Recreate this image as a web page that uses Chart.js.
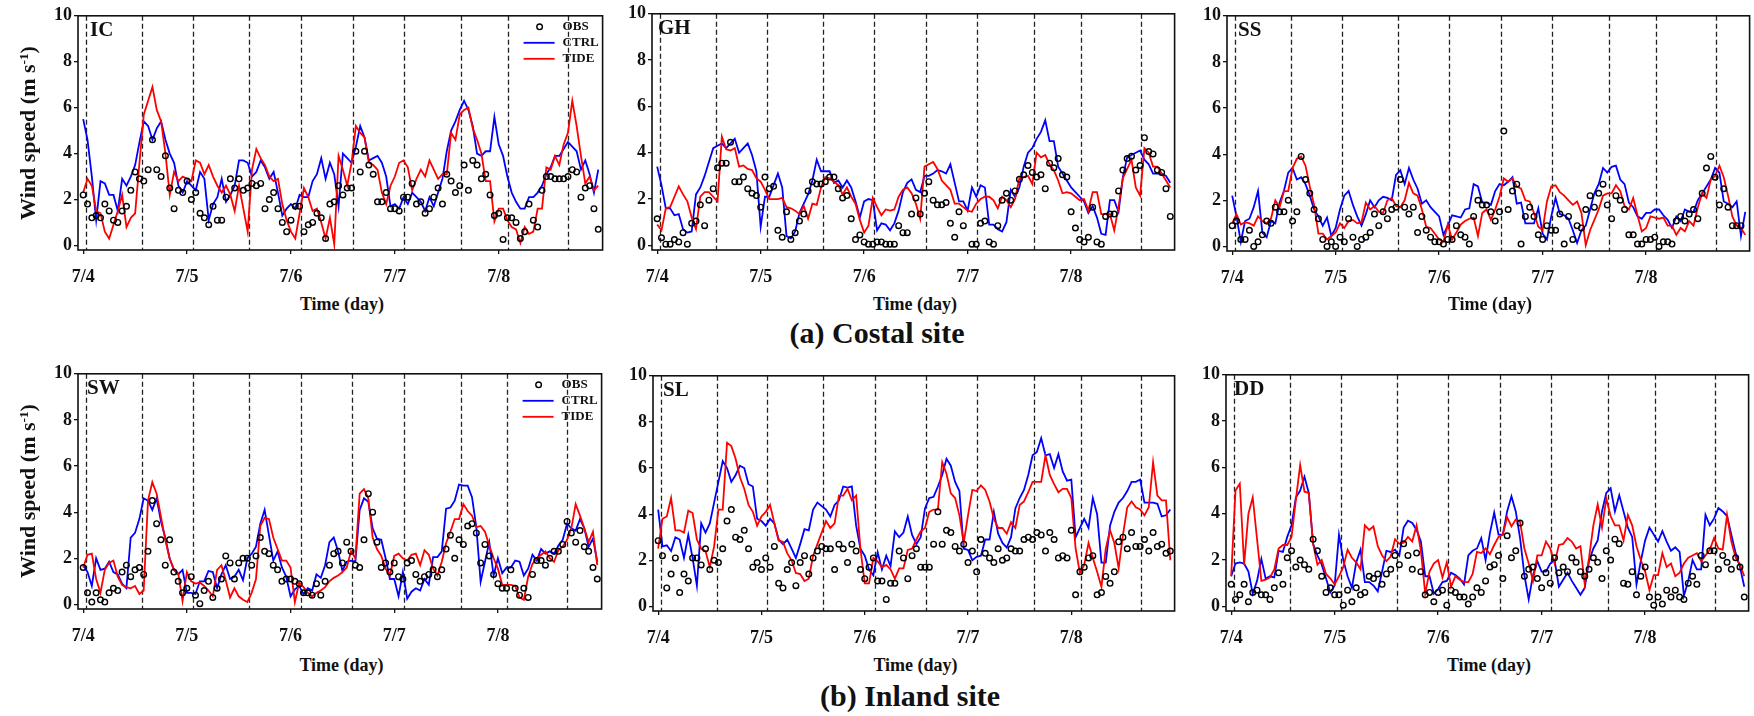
<!DOCTYPE html>
<html>
<head>
<meta charset="utf-8">
<script src="https://cdn.jsdelivr.net/npm/chart.js@4.4.1/dist/chart.umd.min.js"></script>
<style>
  body { margin:0; background:#fff; width:1754px; height:716px; overflow:hidden; position:relative; font-family:'Liberation Serif', 'Times New Roman', serif; }
  canvas { position:absolute; }
  .lbl { position:absolute; font-weight:bold; color:#111; white-space:nowrap; transform:translate(-50%,-50%); line-height:1; }
  .ytitle { transform:translate(-50%,-50%) rotate(-90deg); font-size:22px; }
  .xtitle { font-size:18px; }
  .sub { font-size:30px; }
  sup { font-size:0.6em; vertical-align:0.55em; line-height:0; }
</style>
</head>
<body>
<script>
// hourly wind speed (m/s), hour 0 = 7/4 00:00
const tickHours = [0, 24, 48, 72, 96];
const tickLabels = ['7/4', '7/5', '7/6', '7/7', '7/8'];
const yTicks = [0, 2, 4, 6, 8, 10];
const dashHours = [0.6, 13.7, 25.4, 38.4, 50.4, 62.3, 74.2, 87.4, 98.2, 112.1];

// ---- coastal sites
const icObs = [2.2,1.8,1.2,1.3,1.2,1.8,1.5,1.1,1.0,1.5,1.7,2.4,
  3.2,2.9,2.8,3.3,4.6,3.3,3.0,3.9,2.5,1.6,2.4,2.3,
  2.8,2.0,2.3,1.4,1.2,0.9,1.7,1.1,1.1,2.1,2.9,2.5,
  2.9,2.4,2.5,2.7,2.6,2.7,1.6,2.0,2.3,1.6,1.0,0.6,
  1.1,1.7,1.7,0.6,0.9,1.0,1.4,1.2,0.3,1.8,1.9,2.6,
  2.2,2.5,2.5,4.1,3.2,4.1,3.5,3.1,1.9,1.9,2.3,1.6,
  1.6,1.5,2.1,2.1,2.7,1.8,1.9,1.4,1.6,2.1,2.5,1.8,
  3.1,2.8,2.3,2.6,3.5,2.4,3.7,3.5,2.9,3.1,2.2,1.3,
  1.4,0.26,1.2,1.2,1.0,0.3,0.6,1.8,1.1,0.8,2.4,3.0,
  3.0,2.9,2.9,2.9,3.0,3.3,3.2,2.1,2.5,2.6,1.6,0.7];
const icCtrl = [5.5,4.6,3.0,1.1,2.8,2.7,2.2,2.2,1.5,2.9,2.6,3.0,
  3.5,4.5,5.4,5.2,4.6,5.1,5.4,4.6,4.0,3.6,2.6,2.3,
  2.8,2.6,2.4,3.2,2.9,1.1,1.8,2.1,2.9,1.9,2.2,2.6,
  3.7,3.7,3.6,3.0,3.2,3.7,3.4,2.9,3.2,2.3,1.3,1.6,
  1.8,1.6,2.2,2.1,2.1,2.8,3.1,3.8,2.9,3.6,3.1,1.7,
  4.0,3.8,3.6,4.3,5.2,4.7,3.7,3.8,3.9,3.6,3.0,1.7,
  1.8,1.6,2.1,1.8,2.3,2.1,1.9,1.5,2.1,1.7,2.3,2.9,
  4.1,5.0,5.4,5.9,6.3,5.9,5.2,4.0,3.9,4.1,4.1,5.6,
  4.4,3.9,3.0,2.3,1.9,1.6,1.6,2.1,2.1,2.3,2.6,3.1,
  3.4,3.9,3.9,4.2,4.5,4.3,4.1,3.3,3.7,3.1,2.3,3.3];
const icTide = [2.3,2.9,2.6,1.5,1.4,0.6,0.3,0.9,1.5,2.2,0.8,1.2,
  1.4,3.6,5.7,6.3,6.9,5.9,5.4,4.0,2.2,3.2,2.8,3.0,
  2.9,2.8,3.7,3.6,3.1,3.5,3.0,2.6,2.3,2.6,2.2,1.5,
  2.6,1.6,0.6,3.3,4.2,3.8,3.5,3.0,2.8,2.9,1.8,1.1,
  0.6,0.3,1.4,2.5,2.1,1.5,1.6,1.0,0.3,1.2,0.05,3.9,
  3.3,2.6,3.6,5.2,4.9,4.7,3.6,3.5,3.3,2.3,1.8,2.6,
  3.0,3.6,3.7,3.4,2.4,2.9,3.3,3.0,3.7,3.3,2.9,3.1,
  3.1,4.9,4.6,5.7,5.9,6.0,5.1,4.6,4.0,2.8,2.8,1.05,
  1.6,1.6,1.1,0.8,0.7,0.1,0.8,0.5,0.6,1.6,1.6,3.4,
  3.3,3.9,3.5,4.4,4.9,6.3,5.2,3.9,2.7,3.0,2.4,2.6];

const ghObs = [1.15,0.33,0.05,0.05,0.25,0.15,0.55,0.05,0.95,1.05,1.75,0.85,
  1.95,2.45,3.35,3.55,3.55,4.45,2.75,2.75,2.95,2.45,2.25,2.15,
  1.65,2.95,2.45,2.55,0.65,0.35,1.45,0.25,0.55,1.05,1.35,2.35,
  2.75,2.65,2.65,2.75,2.95,2.95,2.45,2.05,2.15,1.15,0.25,0.45,
  0.15,0.05,0.05,0.15,0.15,0.05,0.05,0.05,0.85,0.55,0.55,1.35,
  2.05,1.35,2.25,2.75,1.95,1.75,1.75,1.85,0.95,0.35,1.45,0.85,
  null,0.05,0.05,0.95,1.05,0.15,0.05,0.85,1.95,2.25,1.95,2.35,
  2.85,3.05,3.45,3.15,2.95,3.05,2.45,3.55,3.35,3.75,3.05,2.95,
  1.45,0.75,0.25,0.15,0.35,1.65,0.15,0.05,1.25,1.35,1.35,2.35,
  3.25,3.75,3.85,3.25,3.45,4.65,4.05,3.95,3.25,3.15,2.45,1.25];
const ghCtrl = [3.4,2.6,1.6,1.6,1.3,1.35,0.7,0.55,0.6,2.2,2.5,3.0,
  3.6,4.2,4.3,4.4,4.2,4.4,4.6,4.0,4.2,4.4,3.9,3.2,
  0.8,2.1,2.1,2.6,3.1,2.5,0.4,0.3,0.6,1.4,1.8,2.2,
  2.8,3.7,3.2,3.2,3.2,2.7,2.8,2.5,2.8,2.5,1.9,1.2,
  1.9,2.0,1.95,0.65,0.95,0.9,0.65,0.95,1.5,2.3,2.7,2.85,
  2.4,2.3,3.0,3.0,3.1,3.25,3.2,3.1,3.5,2.7,1.9,1.9,
  1.5,2.5,2.1,2.6,2.5,0.9,0.9,0.7,0.6,1.0,2.4,2.1,
  2.5,3.4,4.0,4.2,4.6,4.9,5.4,4.5,4.5,3.4,3.1,2.8,
  2.5,2.3,2.1,1.9,1.4,1.7,1.2,0.5,0.45,1.95,1.95,1.45,
  2.95,3.8,3.9,4.0,4.1,3.7,3.5,3.1,3.1,3.1,3.0,2.7];
const ghTide = [0.9,0.65,1.6,1.65,2.1,2.55,2.2,1.9,1.2,0.7,2.1,2.3,
  2.3,2.1,1.9,4.7,4.15,4.1,4.2,3.4,3.45,3.3,3.25,2.9,
  2.75,2.4,2.0,2.0,2.0,2.05,1.65,1.6,1.5,1.35,1.7,1.15,
  1.8,1.75,2.5,2.95,2.9,2.75,2.6,2.2,2.5,2.1,1.8,1.1,
  0.55,0.85,2.05,1.65,1.3,1.55,1.5,1.55,2.1,2.4,2.5,2.25,
  1.8,1.15,3.4,3.5,3.6,3.3,2.8,2.6,2.4,1.8,1.8,1.65,
  1.5,1.45,1.8,2.0,2.1,2.1,1.95,1.6,2.1,1.95,1.65,2.0,
  2.9,2.95,3.0,2.65,4.0,3.8,3.9,3.5,3.25,2.8,2.25,2.3,
  2.25,2.1,1.95,2.0,1.5,2.3,2.3,1.35,1.35,1.35,0.65,1.65,
  2.9,3.3,3.7,2.5,2.15,4.2,4.0,3.4,3.4,3.1,2.8,2.5];

const ssObs = [0.9,1.1,0.3,0.3,0.7,0.0,0.2,0.5,1.1,1.0,1.7,1.5,
  1.5,2.0,1.1,1.5,3.9,2.9,2.3,1.6,1.2,0.3,0.0,0.2,
  0.0,0.4,0.2,1.2,0.4,0.0,0.3,0.4,0.6,1.4,0.9,1.5,
  1.2,1.6,1.7,2.9,1.7,1.4,1.7,0.6,1.3,0.7,0.4,0.2,
  0.2,0.1,0.3,0.3,0.9,0.5,0.4,0.1,1.3,2.0,1.8,1.8,
  1.5,1.1,1.5,5.0,1.6,2.4,2.7,0.1,1.3,1.7,1.3,0.5,
  0.3,0.9,0.7,0.7,1.4,0.1,1.3,0.3,0.9,0.8,1.6,2.2,
  1.7,2.3,2.7,1.8,1.2,2.2,2.0,1.6,0.5,0.5,0.1,0.1,
  0.3,0.3,0.4,0.0,0.2,0.2,0.1,1.1,1.3,1.1,1.4,1.6,
  1.2,2.3,3.4,3.9,3.0,1.8,2.5,1.7,0.9,0.9,0.9,null];
const ssCtrl = [2.2,1.3,0.2,1.1,1.2,1.7,2.4,0.6,0.4,1.1,1.0,1.9,
  2.4,3.2,3.4,2.9,3.0,2.7,2.2,1.6,1.3,0.9,1.25,0.45,
  0.8,1.6,2.2,2.4,1.8,1.3,0.9,1.4,2.0,1.7,2.0,2.15,
  2.1,2.0,3.1,3.3,2.7,3.4,2.9,2.5,1.85,2.0,1.7,1.5,
  1.3,0.5,0.9,1.35,1.3,1.25,1.6,1.65,2.7,2.6,1.9,1.9,
  1.8,2.4,2.7,2.65,2.8,3.0,1.85,1.9,1.0,1.0,1.0,1.65,
  0.55,0.3,1.3,2.1,1.4,1.35,1.2,0.7,0.15,0.7,0.9,1.6,
  2.3,2.7,3.4,3.2,3.45,3.5,2.9,2.7,1.9,1.7,1.3,1.2,
  1.45,1.45,1.6,1.6,1.35,1.15,0.8,1.3,1.1,1.6,1.5,1.5,
  2.0,2.3,2.6,2.9,3.4,3.2,1.95,1.85,1.7,1.95,0.45,1.5];
const ssTide = [1.0,1.4,0.95,1.05,1.0,0.9,1.3,1.1,1.0,1.2,2.0,1.7,
  2.4,2.4,3.4,3.8,3.9,3.5,2.6,1.8,0.55,0.55,0.3,0.45,
  0.6,1.0,0.8,1.1,1.15,1.0,1.05,1.9,1.6,1.75,1.5,1.45,
  2.0,2.1,1.75,1.7,2.0,2.75,2.3,2.2,1.6,0.85,0.8,0.55,
  0.3,0.2,0.95,0.3,0.6,0.95,1.1,1.2,1.25,0.45,1.45,1.6,
  1.15,1.6,2.15,2.95,2.8,2.95,2.6,2.5,2.0,1.95,1.45,0.85,
  0.7,1.95,2.6,2.65,2.35,2.2,2.0,1.8,1.95,1.45,0.05,0.7,
  1.15,1.6,2.2,2.3,2.3,2.65,2.4,1.75,1.6,2.1,1.35,0.65,
  0.8,1.3,1.25,1.2,1.25,0.9,0.9,0.5,0.8,0.65,1.1,0.9,
  1.7,2.3,2.1,2.9,3.05,3.5,3.0,2.2,1.3,0.9,0.8,0.5];

// ---- inland sites
const swObs = [1.6,0.5,0.1,0.5,0.2,0.1,0.5,0.7,0.6,1.4,1.7,1.2,
  1.5,1.6,1.3,2.3,4.5,3.5,2.8,1.7,2.8,1.4,1.0,0.5,
  0.7,1.2,0.4,0.03,0.6,1.0,0.3,0.7,1.1,2.1,1.8,1.1,
  1.8,2.0,2.0,1.7,2.1,2.9,2.3,2.2,1.7,1.5,1.0,1.1,
  1.1,1.0,0.9,0.5,0.5,0.4,0.9,0.4,1.0,1.7,2.2,2.3,
  1.8,2.7,2.3,1.7,1.6,2.8,4.8,4.0,2.7,1.6,1.8,1.4,
  1.8,1.2,1.1,1.8,1.9,1.3,1.0,1.2,1.3,1.5,1.2,1.5,
  2.4,3.0,2.0,2.8,2.6,3.4,3.5,3.1,1.8,2.6,2.1,1.3,
  0.9,0.7,0.7,1.5,0.7,0.4,0.7,0.3,1.3,1.9,1.9,1.7,
  2.0,2.3,2.3,2.6,3.6,3.1,2.7,3.2,2.5,2.3,1.6,1.1];
const swCtrl = [1.7,1.4,0.8,2.0,1.5,1.55,1.85,1.4,1.3,0.9,0.7,2.9,
  3.1,3.7,4.6,4.5,4.1,4.6,3.6,2.9,2.0,1.5,1.3,1.5,
  0.5,0.5,0.45,1.0,1.0,1.45,1.4,0.7,1.3,1.7,1.1,1.2,
  1.5,1.05,2.0,2.2,2.5,3.5,4.1,3.0,1.9,2.3,1.6,1.2,
  0.35,0.65,0.8,0.45,0.7,0.6,1.3,1.15,1.7,2.7,2.9,2.3,
  1.45,1.85,1.9,1.85,4.1,4.6,4.45,3.3,2.85,2.8,2.0,1.1,
  1.1,0.35,1.4,0.25,0.55,0.7,0.6,1.1,0.85,2.05,2.05,2.3,
  4.15,4.2,4.5,5.2,5.15,5.15,4.65,3.35,0.98,1.85,2.7,1.25,
  2.0,1.35,1.6,1.6,1.9,1.85,1.25,1.55,2.15,1.9,2.4,2.2,
  2.3,2.2,2.55,2.8,3.5,3.3,3.2,3.7,3.3,2.5,2.85,1.85];
const swTide = [1.6,2.15,2.2,1.1,0.5,1.5,1.8,1.9,1.2,0.85,0.75,0.7,
  0.8,0.45,0.6,4.5,5.3,4.8,3.8,2.8,2.0,1.5,1.35,0.15,
  1.4,1.0,0.9,0.95,0.8,0.6,0.35,1.5,1.7,1.05,0.3,0.7,
  0.35,0.2,0.1,0.5,1.1,3.4,3.75,3.7,2.9,2.4,1.9,1.9,
  1.6,0.1,0.95,0.75,0.5,0.35,0.5,0.6,0.75,1.0,1.15,1.25,
  1.4,1.6,2.3,2.0,4.8,5.0,4.6,2.9,2.4,2.1,1.55,1.25,
  2.1,2.2,2.0,1.9,2.15,2.2,1.7,2.35,2.15,1.55,1.25,1.85,
  2.65,3.15,3.7,3.7,4.35,4.05,3.85,3.35,3.4,3.15,2.55,2.0,
  1.55,0.85,0.85,0.85,0.8,0.3,0.2,1.2,1.75,2.0,2.15,2.3,
  2.0,1.85,2.35,2.5,2.8,3.3,4.35,3.85,3.3,2.7,3.15,1.7];

const slObs = [2.85,2.2,0.8,1.4,2.1,0.6,1.4,1.1,2.1,2.1,1.8,2.5,
  1.6,2.0,1.9,2.5,3.7,4.2,3.0,2.9,3.3,2.5,1.7,1.9,
  1.6,2.1,1.7,2.6,1.0,0.8,1.6,1.9,0.9,1.9,2.2,1.4,
  2.1,2.4,2.6,2.5,2.5,1.6,2.7,2.5,1.9,2.7,2.4,1.6,
  1.2,1.7,2.1,1.1,1.1,0.3,1.0,1.0,2.4,2.1,1.2,2.2,
  2.5,1.7,1.7,1.7,2.7,4.1,2.7,3.3,3.2,2.6,2.4,2.7,
  1.9,2.4,1.5,2.9,2.3,2.1,1.9,2.5,2.0,2.1,2.5,2.4,
  2.4,2.9,3.0,2.9,3.2,3.1,2.4,3.2,2.9,2.1,2.2,2.1,
  3.3,0.5,1.5,1.7,2.1,2.2,0.5,0.6,1.3,1.0,1.5,2.8,
  3.0,2.5,3.2,2.6,2.6,2.9,2.4,3.2,2.6,2.7,2.3,2.4];
const slCtrl = [4.2,2.6,2.65,2.4,3.0,2.9,2.1,3.1,2.1,0.9,3.6,3.2,
  3.6,4.5,5.4,6.3,6.0,5.4,5.7,6.1,6.0,5.3,5.2,3.8,
  3.7,3.5,3.8,3.6,2.9,2.7,2.9,2.5,2.1,2.7,3.35,3.3,
  4.2,4.5,4.35,4.2,3.9,4.4,4.6,5.2,5.15,5.2,3.5,2.5,
  2.2,1.6,1.35,2.35,1.6,2.2,1.75,3.25,3.0,3.2,3.9,3.1,
  2.7,3.0,4.25,4.7,4.75,5.2,5.7,6.4,6.1,5.4,5.0,2.5,
  2.45,2.0,2.15,2.2,2.9,2.9,4.1,3.15,2.75,2.55,3.0,4.25,
  4.7,5.05,5.7,6.55,6.7,7.3,6.55,6.6,6.0,6.6,5.85,5.45,
  5.5,3.0,3.4,3.8,3.4,4.7,4.0,1.9,1.9,3.5,4.1,4.5,
  4.7,5.0,5.4,5.4,5.5,4.5,4.5,4.5,4.45,3.9,3.95,4.2];
const slTide = [2.5,3.8,3.9,4.7,3.3,3.3,3.2,4.15,4.05,2.9,2.5,2.4,
  1.7,2.6,4.2,4.2,7.1,6.95,6.4,5.6,5.1,4.4,4.1,3.5,
  3.9,4.1,4.4,3.6,2.85,2.8,2.3,2.0,1.45,1.4,1.1,1.2,
  2.2,2.7,3.2,3.7,3.4,3.6,4.8,4.8,5.1,4.6,4.8,2.5,
  1.0,1.0,2.1,1.95,1.7,1.8,1.6,1.2,1.65,1.65,2.45,2.5,
  2.9,3.25,3.4,4.1,4.2,4.2,6.25,5.75,4.9,4.7,3.95,2.75,
  3.95,5.05,5.0,5.25,5.05,4.55,3.8,3.4,3.4,3.15,3.65,3.4,
  4.4,4.55,4.95,5.4,5.4,5.4,6.55,5.7,5.3,4.95,5.1,5.1,
  4.7,2.5,1.45,1.8,2.75,2.1,1.5,0.85,2.5,3.3,2.75,1.65,
  3.1,4.3,4.55,4.3,4.2,3.95,4.3,6.25,4.8,4.6,4.6,2.0];

const ddObs = [0.95,0.3,0.5,0.95,0.2,0.6,0.7,0.5,0.5,0.3,0.8,1.45,
  0.95,2.1,2.4,1.7,2.0,1.8,1.6,2.9,2.4,1.3,0.6,0.8,
  0.5,0.5,0.05,0.7,0.2,0.8,0.5,0.6,1.3,1.2,1.4,0.95,
  1.4,1.6,2.2,1.8,2.7,2.2,1.6,2.3,1.5,0.5,0.6,0.2,
  0.6,0.7,0.05,0.7,0.6,0.4,0.4,0.1,0.4,0.8,0.6,1.1,
  1.7,1.8,2.2,1.2,3.05,2.1,2.4,3.6,1.3,1.6,1.7,1.2,
  0.8,1.45,1.0,2.1,1.45,1.7,1.5,2.1,1.9,1.5,1.3,1.6,
  2.1,1.9,1.2,2.4,2.0,2.9,2.7,1.0,0.95,1.5,0.5,1.3,
  1.7,0.4,0.05,0.4,0.1,0.7,0.4,0.7,0.4,0.3,1.0,1.3,
  0.95,2.2,1.8,2.4,2.4,1.6,2.2,1.9,1.6,2.1,1.7,0.4];
const ddCtrl = [1.3,1.85,1.9,1.85,1.5,0.55,1.1,2.05,1.2,1.3,1.25,2.4,
  2.35,3.0,3.5,4.7,5.0,5.6,4.9,2.7,2.2,1.8,1.2,0.6,
  0.9,3.1,2.0,1.3,0.8,1.9,2.45,1.05,1.05,0.9,0.65,1.5,
  2.4,2.35,2.45,2.2,3.4,3.7,3.6,3.3,2.8,1.3,1.3,0.55,
  0.75,1.05,1.1,1.45,1.35,1.2,0.95,2.2,2.4,2.5,2.95,2.0,
  3.15,4.05,3.1,3.1,4.1,4.75,4.1,2.95,1.35,0.3,1.35,1.95,
  1.5,1.5,1.85,2.0,0.85,1.15,1.45,1.1,0.8,0.5,0.8,1.95,
  2.5,2.85,4.1,4.9,5.1,4.1,4.8,4.1,3.4,3.0,0.95,1.95,
  2.85,3.4,3.1,2.8,3.25,2.8,2.4,2.55,2.35,0.45,1.1,2.0,
  1.6,1.6,3.95,3.5,3.8,4.25,4.1,3.9,3.1,2.3,1.7,0.85];
const ddTide = [1.3,5.0,5.3,1.8,4.0,4.7,2.9,1.1,1.15,1.25,1.6,2.5,
  2.65,2.65,3.0,4.6,6.1,4.95,4.9,2.7,1.8,2.0,1.4,1.2,
  0.95,1.3,1.7,2.45,2.1,1.9,1.6,3.5,3.3,3.45,2.6,2.2,
  1.95,2.15,2.9,2.7,2.75,3.0,2.8,3.5,2.4,0.55,1.5,1.85,
  2.0,1.25,1.9,0.85,1.3,1.15,1.05,1.05,1.4,2.35,2.3,2.5,
  2.25,2.65,3.0,3.1,3.85,3.45,3.75,3.65,2.5,1.85,1.1,2.2,
  2.2,2.8,2.5,1.85,2.65,2.7,2.95,2.8,2.5,2.6,0.95,2.1,
  3.5,4.4,3.4,4.65,3.9,3.5,3.5,2.85,3.95,3.5,2.6,2.0,
  1.5,0.7,1.35,1.35,2.3,1.7,1.85,1.3,1.45,1.85,2.1,2.2,
  2.3,1.95,2.2,2.45,2.95,2.5,2.45,3.95,2.8,2.1,1.8,1.3];

const CTRL_COLOR = '#0000ff';
const TIDE_COLOR = '#ff0000';
const FONT = '"Liberation Serif", "Times New Roman", serif';

// plot boxes in page pixels
const panels = [
  { name: 'IC', obs: icObs, ctrl: icCtrl, tide: icTide, L: 78, T: 15, R: 606, B: 250, lx: 12, legend: true },
  { name: 'GH', obs: ghObs, ctrl: ghCtrl, tide: ghTide, L: 652, T: 13, R: 1178, B: 250, lx: 6 },
  { name: 'SS', obs: ssObs, ctrl: ssCtrl, tide: ssTide, L: 1227, T: 15, R: 1753, B: 251, lx: 11 },
  { name: 'SW', obs: swObs, ctrl: swCtrl, tide: swTide, L: 78, T: 373, R: 605, B: 609, lx: 9, legend: true },
  { name: 'SL', obs: slObs, ctrl: slCtrl, tide: slTide, L: 653, T: 375, R: 1178, B: 611, lx: 10 },
  { name: 'DD', obs: ddObs, ctrl: ddCtrl, tide: ddTide, L: 1226, T: 374, R: 1752, B: 611, lx: 8 }
];

const pts = arr => arr.map((v, i) => ({ x: i, y: v }));

const framePlugin = {
  id: 'frame',
  beforeDatasetsDraw(chart, args, opts) {
    const { ctx, chartArea: a } = chart;
    const x = chart.scales.x;
    ctx.save();
    ctx.strokeStyle = '#222';
    ctx.lineWidth = 1.3;
    ctx.setLineDash([5, 3]);
    dashHours.forEach(h => {
      const px = Math.round(x.getPixelForValue(h)) + 0.5;
      ctx.beginPath();
      ctx.moveTo(px, a.top);
      ctx.lineTo(px, a.bottom);
      ctx.stroke();
    });
    ctx.restore();
  },
  afterDraw(chart, args, opts) {
    const { ctx, chartArea: a } = chart;
    ctx.save();
    ctx.strokeStyle = '#111';
    ctx.lineWidth = 1.6;
    ctx.strokeRect(a.left, a.top, a.right - a.left, a.bottom - a.top);
    ctx.fillStyle = '#111';
    ctx.textBaseline = 'middle';
    ctx.font = 'bold 21px ' + FONT;
    ctx.fillText(opts.name, a.left + opts.lx, a.top + 15);
    if (opts.legend) {
      const r = a.right;
      const rows = [a.top + 11, a.top + 27, a.top + 43];
      ctx.font = 'bold 13px ' + FONT;
      ctx.lineWidth = 1.4;
      ctx.strokeStyle = '#000';
      ctx.beginPath();
      ctx.arc(r - 63, rows[0], 2.8, 0, Math.PI * 2);
      ctx.stroke();
      ctx.fillText('OBS', r - 40, rows[0]);
      ctx.lineWidth = 1.8;
      ctx.strokeStyle = CTRL_COLOR;
      ctx.beginPath(); ctx.moveTo(r - 79, rows[1]); ctx.lineTo(r - 48, rows[1]); ctx.stroke();
      ctx.fillText('CTRL', r - 40, rows[1]);
      ctx.strokeStyle = TIDE_COLOR;
      ctx.beginPath(); ctx.moveTo(r - 79, rows[2]); ctx.lineTo(r - 48, rows[2]); ctx.stroke();
      ctx.fillText('TIDE', r - 40, rows[2]);
    }
    ctx.restore();
  }
};

const tickFont = { family: FONT, size: 18, weight: 'bold' };
const PAD_L = 60, PAD_T = 12, PAD_R = 2, XH = 44;

panels.forEach(p => {
  const cv = document.createElement('canvas');
  const w = p.R - p.L + PAD_L + PAD_R;
  const h = p.B - p.T + PAD_T + XH;
  cv.width = w;
  cv.height = h;
  cv.style.left = (p.L - PAD_L) + 'px';
  cv.style.top = (p.T - PAD_T) + 'px';
  document.body.appendChild(cv);

  new Chart(cv, {
    type: 'line',
    data: {
      datasets: [
        { label: 'OBS', data: pts(p.obs), showLine: false, pointRadius: 2.8, pointBorderWidth: 1.4,
          pointBorderColor: '#000', pointBackgroundColor: 'rgba(0,0,0,0)' },
        { label: 'TIDE', data: pts(p.tide), borderColor: TIDE_COLOR, borderWidth: 1.8, pointRadius: 0 },
        { label: 'CTRL', data: pts(p.ctrl), borderColor: CTRL_COLOR, borderWidth: 1.8, pointRadius: 0 }
      ]
    },
    options: {
      responsive: false,
      animation: false,
      devicePixelRatio: 1,
      layout: { padding: { left: 0, right: PAD_R, top: PAD_T, bottom: 0 } },
      plugins: {
        legend: { display: false },
        tooltip: { enabled: false },
        frame: { name: p.name, lx: p.lx, legend: !!p.legend }
      },
      scales: {
        x: {
          type: 'linear', min: -1.2, max: 120,
          afterFit: s => { s.height = XH; },
          afterBuildTicks: s => { s.ticks = tickHours.map(v => ({ value: v })); },
          ticks: { callback: v => tickLabels[tickHours.indexOf(v)], font: tickFont, color: '#111',
                   padding: 13, maxRotation: 0, autoSkip: false },
          grid: { drawOnChartArea: false, tickLength: 4, color: '#111', lineWidth: 1.3 },
          border: { display: false }
        },
        y: {
          min: -0.2, max: 10,
          afterFit: s => { s.width = PAD_L; },
          afterBuildTicks: s => { s.ticks = yTicks.map(v => ({ value: v })); },
          ticks: { font: tickFont, color: '#111', padding: 2 },
          grid: { drawOnChartArea: false, tickLength: 4, color: '#111', lineWidth: 1.3 },
          border: { display: false }
        }
      }
    },
    plugins: [framePlugin]
  });
});

// text outside the plots
function addText(html, cls, x, y) {
  const d = document.createElement('div');
  d.className = 'lbl ' + cls;
  d.innerHTML = html;
  d.style.left = x + 'px';
  d.style.top = y + 'px';
  document.body.appendChild(d);
}
addText('Wind speed (m s<sup>-1</sup>)', 'ytitle', 28, 133);
addText('Wind speed (m s<sup>-1</sup>)', 'ytitle', 28, 491);
panels.forEach((p, i) => addText('Time (day)', 'xtitle', (p.L + p.R) / 2, i < 3 ? 304 : 665));
addText('(a) Costal site', 'sub', 877, 333);
addText('(b) Inland site', 'sub', 910, 696);
</script>
</body>
</html>
